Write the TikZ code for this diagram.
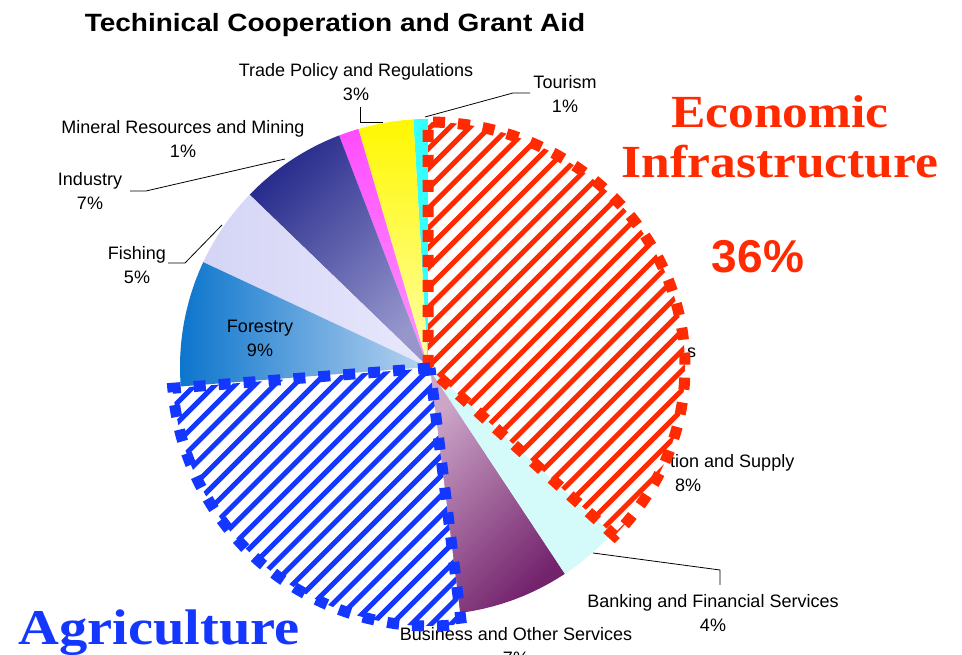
\documentclass[tikz,border=0pt]{standalone}
\usepackage{fontspec}
\setmainfont{Liberation Sans}
\newfontfamily\bigserif{Liberation Serif}
\usetikzlibrary{calc}
\definecolor{ecored}{RGB}{255,42,0}
\definecolor{agblue}{RGB}{20,55,255}
\definecolor{tourc}{RGB}{51,255,255}
\definecolor{tradeA}{RGB}{255,247,0}
\definecolor{tradeB}{RGB}{255,255,170}
\definecolor{minA}{RGB}{255,77,255}
\definecolor{minB}{RGB}{255,150,255}
\definecolor{indA}{RGB}{40,44,140}
\definecolor{indB}{RGB}{150,150,205}
\definecolor{fishA}{RGB}{212,212,246}
\definecolor{fishB}{RGB}{232,232,252}
\definecolor{forA}{RGB}{10,116,204}
\definecolor{forB}{RGB}{186,212,240}
\definecolor{busA}{RGB}{204,165,200}
\definecolor{busB}{RGB}{115,34,108}
\definecolor{bankc}{RGB}{212,250,250}
\newcommand{\twol}[2]{\begin{tabular}[t]{@{}c@{}}#1\\#2\end{tabular}}
\tikzset{
  lbl/.style={font=\fontsize{18}{24}\selectfont, inner sep=0pt, anchor=base},
  leader/.style={draw=black, line width=0.8pt},
  ovl/.style={line width=11pt, dash pattern=on 12pt off 13pt},
  hatchline/.style={line width=5pt},
}
\begin{document}
\begin{tikzpicture}[x=1pt,y=1pt]
\useasboundingbox (0,0) rectangle (962,655);
\fill[white] (0,0) rectangle (962,655);
\coordinate (C) at (428,288);
\def\R{248}
% slices
\fill[tourc] (C) -- ++(90:\R) arc[start angle=90,end angle=93.4,radius=\R] -- cycle;
\shade[top color=tradeA,bottom color=tradeB] (C) -- ++(93.4:\R) arc[start angle=93.4,end angle=106.3,radius=\R] -- cycle;
\shade[top color=minA,bottom color=minB] (C) -- ++(106.3:\R) arc[start angle=106.3,end angle=111,radius=\R] -- cycle;
\shade[top color=indA,bottom color=indB,shading angle=45] (C) -- ++(111:\R) arc[start angle=111,end angle=136,radius=\R] -- cycle;
\shade[left color=fishA,right color=fishB] (C) -- ++(136:\R) arc[start angle=136,end angle=155,radius=\R] -- cycle;
\shade[left color=forA,right color=forB] (C) -- ++(155:\R) arc[start angle=155,end angle=184.5,radius=\R] -- cycle;
\shade[top color=busA,bottom color=busB,shading angle=45] (C) -- ++(277:\R) arc[start angle=277,end angle=303.5,radius=\R] -- cycle;
\fill[bankc] (C) -- ++(303.5:\R) arc[start angle=303.5,end angle=318,radius=\R] -- cycle;

% title
\node (title) [inner sep=0pt, anchor=base, font=\fontsize{25}{30}\selectfont\bfseries] at (335,623) {\scalebox{1.12}[1]{Techinical Cooperation and Grant Aid}};

% labels
\node (trade) [lbl] at (356,578) {\twol{Trade Policy and Regulations}{3\%}};
\node (tour) [lbl] at (565,566) {\twol{Tourism}{1\%}};
\node (mineral) [lbl] at (183,521) {\twol{Mineral Resources and Mining}{1\%}};
\node (industry) [lbl] at (90,469) {\twol{Industry}{7\%}};
\node (fishing) [lbl] at (137,395) {\twol{Fishing}{5\%}};
\node (forestry) [lbl] at (260,322) {\twol{Forestry}{9\%}};
\node (banking) [lbl] at (713,47) {\twol{Banking and Financial Services}{4\%}};
\node (business) [lbl] at (516,14) {\twol{Business and Other Services}{7\%}};
\node (sfrag) [lbl, anchor=base west] at (687,297) {s};
\node (supply) [lbl, anchor=base west] at (670,187) {\begin{tabular}[t]{@{}l@{}}tion and Supply\\\hspace{5pt}8\%\end{tabular}};

% leaders
\coordinate (tr1) at (360,548); \coordinate (tr2) at (360,533); \coordinate (tr3) at (383,533);
\draw[leader] (tr1) -- (tr2) -- (tr3);
\coordinate (to1) at (530,562); \coordinate (to2) at (513,562); \coordinate (to3) at (425,538);
\draw[leader] (to1) -- (to2) -- (to3);
\coordinate (in1) at (130,464); \coordinate (in2) at (146,464); \coordinate (in3) at (285,496);
\draw[leader] (in1) -- (in2) -- (in3);
\coordinate (fi1) at (168,392); \coordinate (fi2) at (185,392); \coordinate (fi3) at (222,430);
\draw[leader] (fi1) -- (fi2) -- (fi3);
\coordinate (ba1) at (593,102); \coordinate (ba2) at (720,85); \coordinate (ba3) at (720,70);
\draw[leader] (ba1) -- (ba2) -- (ba3);

% economic infrastructure overlay
\coordinate (RC) at (428,288);
\def\redpath{(RC) -- ++(0,245) arc[start angle=90,end angle=-43.5,x radius=257,y radius=245] -- cycle}
\fill[white] \redpath;
\begin{scope}
\clip \redpath;
\foreach \i in {-22,...,26} \draw[hatchline, ecored] ($(RC)+(\i*19.8-300,-300)$) -- ++(600,600);
\end{scope}
\draw[ovl, ecored] \redpath;

% agriculture overlay
\coordinate (BC) at (430,287);
\def\bluepath{(BC) -- ++(184.5:258) arc[start angle=184.5,end angle=277,radius=258] -- cycle}
\fill[white] \bluepath;
\begin{scope}
\clip \bluepath;
\foreach \i in {-22,...,26} \draw[hatchline, agblue] ($(BC)+(\i*19.8-300,-300)$) -- ++(600,600);
\end{scope}
\draw[ovl, agblue] \bluepath;

% big labels
\node (econ) [inner sep=0pt, anchor=base, text=ecored, font=\bigserif\bfseries\fontsize{46}{50}\selectfont] at (780,527) {\scalebox{1.12}[1]{\twol{Economic}{Infrastructure}}};
\node (pct) [inner sep=0pt, anchor=base, text=ecored, font=\bfseries\fontsize{46}{50}\selectfont] at (758,382) {36\%};
\node (agri) [inner sep=0pt, anchor=base, text=agblue, font=\bigserif\bfseries\fontsize{50}{55}\selectfont] at (159,10) {\scalebox{1.13}[1]{Agriculture}};
\end{tikzpicture}
\end{document}
